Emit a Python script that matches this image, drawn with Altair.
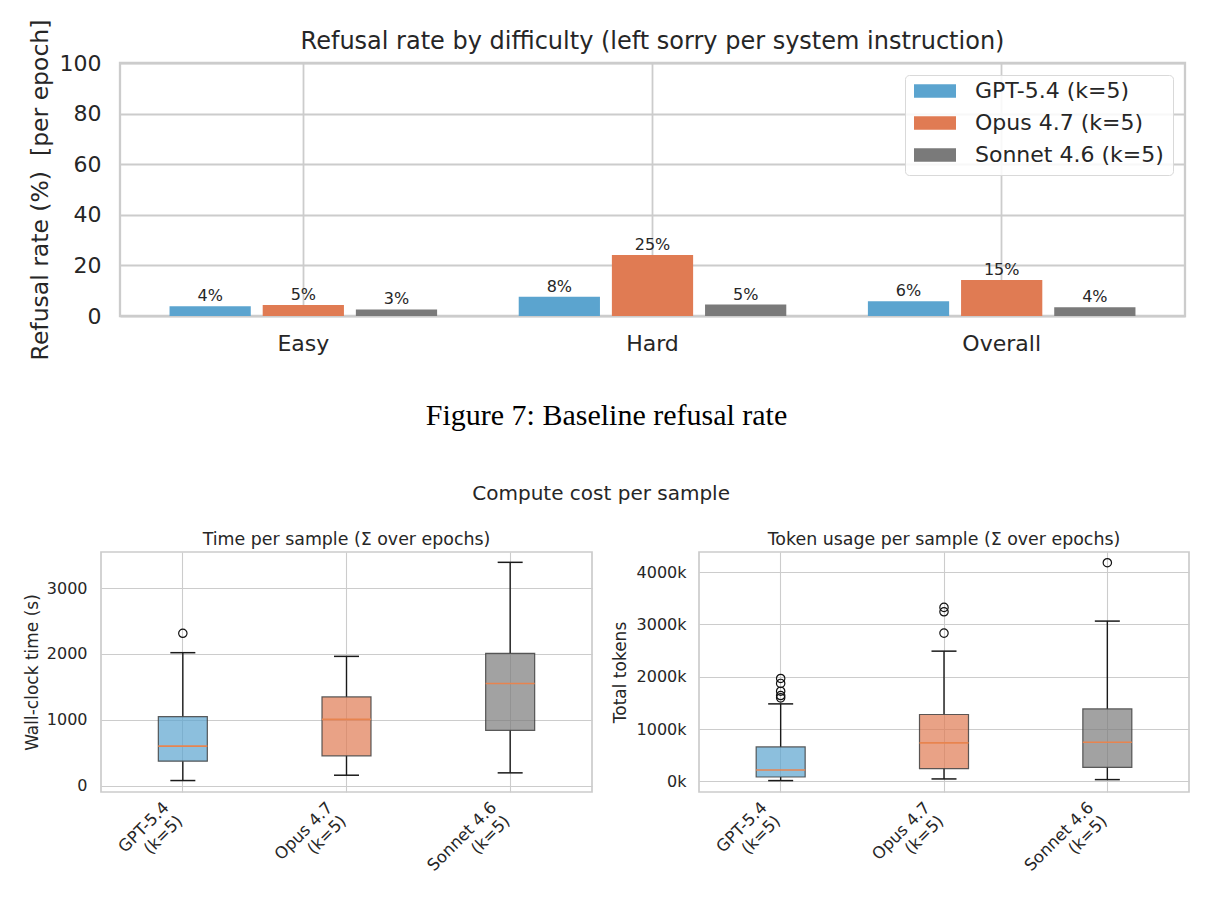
import altair as alt
import pandas as pd

# ---------------- data: refusal rate ----------------
difficulty = ["Easy", "Hard", "Overall"]
models = ["GPT-5.4 (k=5)", "Opus 4.7 (k=5)", "Sonnet 4.6 (k=5)"]
gpt_rate = [3.9, 7.6, 5.8]
opus_rate = [4.3, 24.1, 14.2]
sonnet_rate = [2.6, 4.5, 3.5]
gpt_label = ["4%", "8%", "6%"]
opus_label = ["5%", "25%", "15%"]
sonnet_label = ["3%", "5%", "4%"]
bar_colors = ["#5BA4CF", "#E07B53", "#7A7A7A"]

# ---------------- data: compute cost boxplots ----------------
box_models = ["GPT-5.4\n(k=5)", "Opus 4.7\n(k=5)", "Sonnet 4.6\n(k=5)"]
box_fill = ["#5BA4CF", "#E07B53", "#7A7A7A"]

time_low = [76, 157, 193]
time_q1 = [371, 452, 839]
time_med = [600, 1007, 1551]
time_q3 = [1047, 1347, 2008]
time_high = [2019, 1963, 3392]
time_out_model = ["GPT-5.4\n(k=5)"]
time_out_value = [2314]

tok_low = [13, 45, 32]
tok_q1 = [82, 243, 268]
tok_med = [216, 734, 747]
tok_q3 = [657, 1278, 1385]
tok_high = [1481, 2490, 3065]
tok_out_model = ["GPT-5.4\n(k=5)"] * 5 + ["Opus 4.7\n(k=5)"] * 3 + ["Sonnet 4.6\n(k=5)"]
tok_out_value = [1967, 1872, 1724, 1641, 1596, 2835, 3243, 3327, 4182]

TEXT = "#262626"
GRID = "#cccccc"


def spacer():
    # an empty, invisible 1-px view used only to set where a row starts
    return alt.Chart(pd.DataFrame({"s": [0]})).mark_point(opacity=0).encode(
        x=alt.value(0), y=alt.value(0)
    ).properties(width=1, height=1, view=alt.ViewBackground(stroke="transparent"))


# ---------------- top chart ----------------
rows = []
for m, vals, labs in zip(models, [gpt_rate, opus_rate, sonnet_rate],
                         [gpt_label, opus_label, sonnet_label]):
    for d, v, l in zip(difficulty, vals, labs):
        rows.append({"difficulty": d, "model": m, "rate": v, "label": l})
bars_df = pd.DataFrame(rows)

x_top = alt.X(
    "difficulty:N", sort=difficulty,
    scale=alt.Scale(paddingInner=0, paddingOuter=0.025),
    axis=alt.Axis(
        title="Figure 7: Baseline refusal rate", titleFont="Liberation Serif",
        titleFontSize=30, titleFontWeight="normal", titleColor="#000000",
        titleX=486, titleY=108, titleBaseline="alphabetic", titleAlign="center",
        labelAngle=0, labelFontSize=22, labelColor=TEXT, labelPadding=17,
        ticks=False, tickSize=0, domain=False, grid=True, gridColor=GRID,
        gridWidth=1.8, bandPosition=0.5,
    ),
)
xoff_top = alt.XOffset("model:N", sort=models,
                       scale=alt.Scale(paddingInner=0.128, paddingOuter=0.438))
y_top = alt.Y(
    "rate:Q", scale=alt.Scale(domain=[0, 100], nice=False),
    axis=alt.Axis(
        values=[0, 20, 40, 60, 80, 100], title="Refusal rate (%)\u00a0 [per epoch]",
        titleFontSize=23.5, titleFontWeight="normal", titleColor=TEXT, titlePadding=7,
        labelFontSize=22, labelColor=TEXT, labelPadding=19,
        ticks=False, tickSize=0, domain=False, gridColor=GRID, gridWidth=1.8,
    ),
)
color_top = alt.Color(
    "model:N", sort=models,
    scale=alt.Scale(domain=models, range=bar_colors),
    legend=alt.Legend(
        title=None, orient="top-right", offset=12, padding=9,
        fillColor="rgba(255,255,255,0.85)", strokeColor="#d9d9d9", cornerRadius=4,
        symbolType="M-1,-0.32H1V0.32H-1Z", symbolSize=1764, symbolStrokeWidth=0,
        symbolOpacity=1, labelFontSize=22, labelColor=TEXT, labelOffset=19,
        clipHeight=14, rowPadding=10, labelLimit=300,
    ),
)
base_top = alt.Chart(bars_df).encode(x=x_top, xOffset=xoff_top, y=y_top)
bars = base_top.mark_bar().encode(color=color_top)
bar_text = base_top.mark_text(baseline="alphabetic", dy=-5, fontSize=16, color=TEXT).encode(
    text="label:N")
top_plot = alt.layer(bars, bar_text).properties(
    width=1065, height=253,
    title=alt.TitleParams(
        "Refusal rate by difficulty (left sorry per system instruction)",
        fontSize=24, fontWeight="normal", color=TEXT, baseline="alphabetic",
        offset=-54, anchor="middle"),
    view=alt.ViewBackground(stroke=GRID, strokeWidth=2.3),
)

top = alt.hconcat(spacer(), top_plot, spacing=6).resolve_scale(
    x="independent", y="independent", color="independent")


# ---------------- bottom boxplots ----------------
def box_panel(low, q1, med, q3, high, out_model, out_value, domain, ticks,
              title, ytitle, label_expr, width, label_pad, title_pad):
    df = pd.DataFrame({"bm": box_models, "low": low, "q1": q1, "med": med,
                       "q3": q3, "high": high})
    out_df = pd.DataFrame({"bm": out_model, "value": out_value})
    x = alt.X(
        "bm:N", sort=box_models,
        scale=alt.Scale(domain=box_models, paddingInner=0, paddingOuter=0),
        axis=alt.Axis(
            title=None, labelAngle=315, labelAlign="right", labelBaseline="top",
            labelExpr="split(datum.label, '\\n')", labelFontSize=16.5,
            labelLineHeight=19, labelColor=TEXT, labelPadding=7, labelOffset=-22,
            ticks=False, tickSize=0, domain=False, grid=True, gridColor=GRID,
            gridWidth=1.1, bandPosition=0.5,
        ),
    )
    yscale = alt.Scale(domain=domain, nice=False, zero=False)
    yaxis = alt.Axis(
        values=ticks, title=ytitle, titleFontSize=17, titleFontWeight="normal",
        titleColor=TEXT, titlePadding=title_pad, labelFontSize=16, labelColor=TEXT,
        labelPadding=label_pad, labelExpr=label_expr, ticks=False, tickSize=0,
        domain=False, gridColor=GRID, gridWidth=1.1,
    )
    base = alt.Chart(df).encode(x=x)
    wl = base.mark_rule(color="#1a1a1a", strokeWidth=1.4).encode(
        y=alt.Y("low:Q", scale=yscale, axis=yaxis), y2="q1:Q")
    wh = base.mark_rule(color="#1a1a1a", strokeWidth=1.4).encode(
        y=alt.Y("q3:Q", scale=yscale), y2="high:Q")
    box = base.mark_bar(size=49, fillOpacity=0.7, stroke="#404040",
                        strokeOpacity=0.85, strokeWidth=1.2).encode(
        y=alt.Y("q1:Q", scale=yscale), y2="q3:Q",
        color=alt.Color("bm:N", sort=box_models,
                        scale=alt.Scale(domain=box_models, range=box_fill),
                        legend=None))
    medl = base.mark_tick(size=49, thickness=1.7, color="#E8844F", opacity=1).encode(
        y=alt.Y("med:Q", scale=yscale))
    cap_l = base.mark_tick(size=25, thickness=1.5, color="#1a1a1a", opacity=1).encode(
        y=alt.Y("low:Q", scale=yscale))
    cap_h = base.mark_tick(size=25, thickness=1.5, color="#1a1a1a", opacity=1).encode(
        y=alt.Y("high:Q", scale=yscale))
    outl = alt.Chart(out_df).mark_point(shape="circle", size=70, filled=False,
                                        color="#111111", strokeWidth=1.2,
                                        opacity=1).encode(
        x=alt.X("bm:N", sort=box_models),
        y=alt.Y("value:Q", scale=yscale))
    return alt.layer(wl, wh, box, medl, cap_l, cap_h, outl).properties(
        width=width, height=240,
        title=alt.TitleParams(title, fontSize=17.4, fontWeight="normal", color=TEXT,
                              baseline="alphabetic", offset=-10, anchor="middle"),
        view=alt.ViewBackground(stroke=GRID, strokeWidth=1.7),
    )


left = box_panel(time_low, time_q1, time_med, time_q3, time_high,
                 time_out_model, time_out_value, [-98, 3549], [0, 1000, 2000, 3000],
                 "Time per sample (\u03a3 over epochs)", "Wall-clock time (s)",
                 "datum.value", 491, 14, 5)
right = box_panel(tok_low, tok_q1, tok_med, tok_q3, tok_high,
                  tok_out_model, tok_out_value, [-205, 4387],
                  [0, 1000, 2000, 3000, 4000],
                  "Token usage per sample (\u03a3 over epochs)", "Total tokens",
                  "datum.value + 'k'", 490, 13, 7)

panels = alt.hconcat(left, right, spacing=17).resolve_scale(
    x="independent", y="independent", color="independent")

bottom = alt.hconcat(spacer(), panels, spacing=2).properties(
    title=alt.TitleParams("Compute cost per sample", fontSize=20, fontWeight="normal",
                          color=TEXT, anchor="middle", offset=26)
).resolve_scale(x="independent", y="independent", color="independent")

chart = alt.concat(top, bottom, columns=1, spacing=51, align="none").properties(
    padding={"left": 12, "top": 17, "right": 5, "bottom": 5},
    background="white",
).resolve_scale(color="independent", x="independent", y="independent").configure(
    font="DejaVu Sans").configure_view(strokeWidth=1.7)

chart.save("out.html", embed_options={"renderer": "svg", "actions": False})
